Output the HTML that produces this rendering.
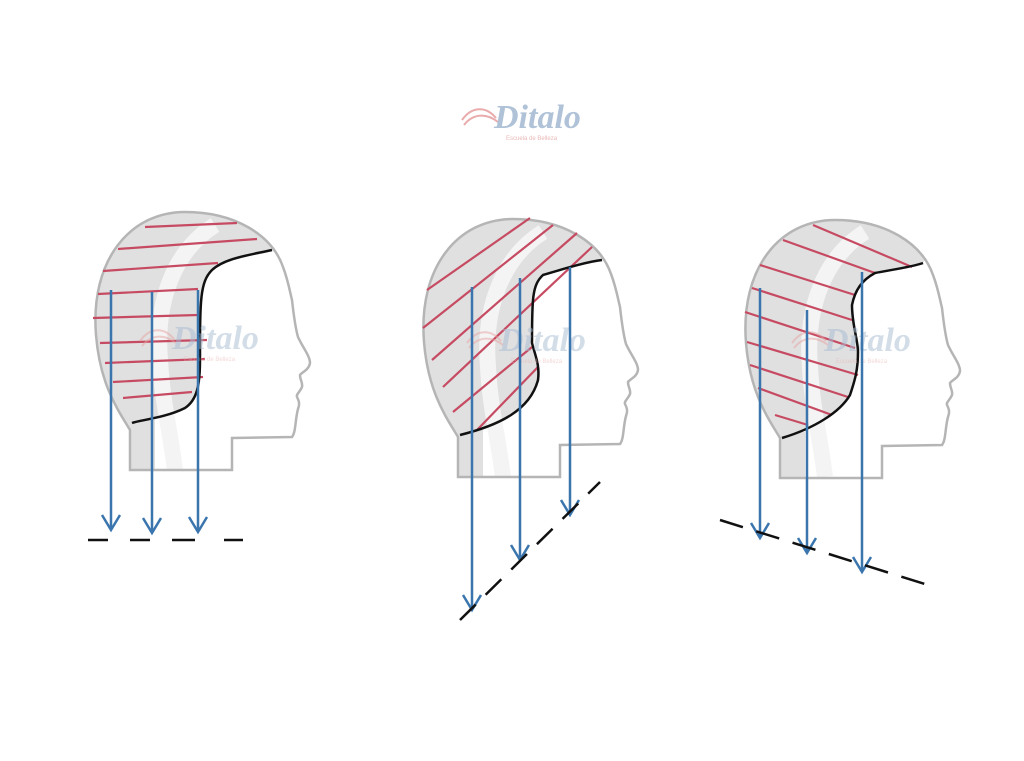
<!DOCTYPE html>
<html><head><meta charset="utf-8"><style>
html,body{margin:0;padding:0;background:#fff;}
svg{display:block;}
</style></head><body>
<svg width="1024" height="761" viewBox="0 0 1024 761" xmlns="http://www.w3.org/2000/svg">
<defs>
<path id="head" d="M130,470 L130,430 C118,410 100,385 96,335 C90,260 130,212 185,212 C235,212 272,235 283,267 C288,280 290,292 292,300 C294,318 296,330 298,337 C303,348 310,356 310,363 C309,370 302,372 300,375 C300,380 303,383 302,387 C300,392 296,394 297,397 C299,401 300,404 298,409 C295,420 296,432 292,437 L232,438 L232,470 Z"/>
<clipPath id="c1"><use href="#head"/></clipPath>
<g id="logo">
<path d="M-38,8 C-28,-6 -14,-6 -4,6" stroke="#e7a3a3" stroke-width="2" fill="none"/>
<path d="M-36,13 C-26,0 -12,2 -2,10" stroke="#e7a3a3" stroke-width="2" fill="none"/>
<text x="-6" y="16" font-family="Liberation Serif, serif" font-style="italic" font-weight="bold" font-size="34" fill="#a7bcd3">Ditalo</text>
<text x="6" y="28" font-family="Liberation Sans, sans-serif" font-size="6" fill="#e9b1b1">Escuela de Belleza</text>
</g>
</defs>

<use href="#logo" transform="translate(500,112)" opacity="0.9"/>

<!-- HEAD 1 -->
<g>
<use href="#head" fill="#fff"/>
<g clip-path="url(#c1)">
<path d="M272,250 C250,255 225,258 212,270 C200,282 200,300 200,360 C200,385 197,400 185,408 C165,418 140,420 132,423 L60,470 L60,190 L300,190 L300,250 Z" fill="#e0e0e0"/>
<rect x="125" y="420" width="30" height="55" fill="#e0e0e0"/>
<path d="M215,225 C175,250 155,300 160,360 C162,400 170,430 175,470" stroke="#f4f4f4" stroke-width="16" fill="none"/>
</g>
<use href="#head" fill="none" stroke="#b5b5b5" stroke-width="2.5"/>
<g stroke="#c64b62" stroke-width="2.2">
<line x1="145" y1="227" x2="237" y2="223"/><line x1="118" y1="249" x2="257" y2="239"/>
<line x1="103" y1="271" x2="218" y2="263"/><line x1="98" y1="294" x2="198" y2="289"/>
<line x1="93" y1="318" x2="198" y2="315"/><line x1="100" y1="343" x2="207" y2="340"/>
<line x1="105" y1="363" x2="205" y2="359"/><line x1="113" y1="382" x2="203" y2="377"/>
<line x1="123" y1="398" x2="192" y2="392"/>
</g>
<path d="M272,250 C250,255 225,258 212,270 C200,282 200,300 200,360 C200,385 197,400 185,408 C165,418 140,420 132,423" stroke="#111" stroke-width="2.5" fill="none"/>
<use href="#logo" transform="translate(178,333)" opacity="0.5"/>
<g stroke="#3a75ad" stroke-width="2.5" fill="none">
<line x1="111" y1="290" x2="111" y2="530"/><polyline points="102,515 111,530 120,515"/>
<line x1="152" y1="292" x2="152" y2="533"/><polyline points="143,518 152,533 161,518"/>
<line x1="198" y1="290" x2="198" y2="532"/><polyline points="189,517 198,532 207,517"/>
</g>
<g stroke="#111" stroke-width="2.5">
<line x1="88" y1="540" x2="108" y2="540"/><line x1="130" y1="540" x2="150" y2="540"/>
<line x1="172" y1="540" x2="195" y2="540"/><line x1="224" y1="540" x2="243" y2="540"/>
</g>
</g>

<!-- HEAD 2 -->
<g>
<g transform="translate(328,7)"><use href="#head" fill="#fff"/></g>
<g transform="translate(328,7)" clip-path="url(#c1)">
<g transform="translate(-328,-7)">
<path d="M602,260 C585,262 560,270 543,275 C532,285 532,300 532,343 C535,355 540,365 538,380 C530,410 500,425 460,435 L380,480 L380,190 L640,190 Z" fill="#e0e0e0"/>
<rect x="453" y="430" width="30" height="55" fill="#e0e0e0"/>
<path d="M543,232 C503,257 483,307 488,367 C490,407 498,437 503,477" stroke="#f4f4f4" stroke-width="16" fill="none"/>
</g></g>
<g transform="translate(328,7)"><use href="#head" fill="none" stroke="#b5b5b5" stroke-width="2.5"/></g>
<g stroke="#c64b62" stroke-width="2.2">
<line x1="427" y1="290" x2="530" y2="218"/><line x1="423" y1="328" x2="553" y2="225"/>
<line x1="432" y1="360" x2="577" y2="233"/><line x1="443" y1="387" x2="592" y2="247"/>
<line x1="453" y1="412" x2="532" y2="347"/><line x1="477" y1="430" x2="538" y2="367"/>
</g>
<path d="M602,260 C585,262 560,270 543,275 C532,285 532,300 532,343 C535,355 540,365 538,380 C530,410 500,425 460,435" stroke="#111" stroke-width="2.5" fill="none"/>
<use href="#logo" transform="translate(505,335)" opacity="0.5"/>
<g stroke="#3a75ad" stroke-width="2.5" fill="none">
<line x1="472" y1="287" x2="472" y2="610"/><polyline points="463,595 472,610 481,595"/>
<line x1="520" y1="278" x2="520" y2="560"/><polyline points="511,545 520,560 529,545"/>
<line x1="570" y1="267" x2="570" y2="515"/><polyline points="561,500 570,515 579,500"/>
</g>
<line x1="460" y1="620" x2="600" y2="482" stroke="#111" stroke-width="2.5" stroke-dasharray="22,14"/>
</g>

<!-- HEAD 3 -->
<g>
<g transform="translate(650,8)"><use href="#head" fill="#fff"/></g>
<g transform="translate(650,8)" clip-path="url(#c1)">
<g transform="translate(-650,-8)">
<path d="M923,263 C912,267 890,270 875,273 C862,280 855,290 852,305 C852,325 858,340 858,352 C858,370 855,380 850,395 C840,412 815,428 782,438 L700,480 L700,190 L960,190 Z" fill="#e0e0e0"/>
<rect x="775" y="432" width="30" height="55" fill="#e0e0e0"/>
<path d="M865,232 C825,257 805,307 810,367 C812,407 820,437 825,477" stroke="#f4f4f4" stroke-width="16" fill="none"/>
</g></g>
<g transform="translate(650,8)"><use href="#head" fill="none" stroke="#b5b5b5" stroke-width="2.5"/></g>
<g stroke="#c64b62" stroke-width="2.2">
<line x1="813" y1="225" x2="912" y2="267"/><line x1="783" y1="240" x2="875" y2="273"/>
<line x1="760" y1="265" x2="855" y2="295"/><line x1="752" y1="288" x2="852" y2="320"/>
<line x1="745" y1="312" x2="855" y2="348"/><line x1="747" y1="342" x2="858" y2="375"/>
<line x1="750" y1="365" x2="848" y2="397"/><line x1="758" y1="388" x2="832" y2="415"/>
<line x1="775" y1="415" x2="808" y2="425"/>
</g>
<path d="M923,263 C912,267 890,270 875,273 C862,280 855,290 852,305 C852,325 858,340 858,352 C858,370 855,380 850,395 C840,412 815,428 782,438" stroke="#111" stroke-width="2.5" fill="none"/>
<use href="#logo" transform="translate(830,335)" opacity="0.5"/>
<g stroke="#3a75ad" stroke-width="2.5" fill="none">
<line x1="760" y1="288" x2="760" y2="538"/><polyline points="751,523 760,538 769,523"/>
<line x1="807" y1="310" x2="807" y2="553"/><polyline points="798,538 807,553 816,538"/>
<line x1="862" y1="272" x2="862" y2="572"/><polyline points="853,557 862,572 871,557"/>
</g>
<line x1="720" y1="520" x2="928" y2="585" stroke="#111" stroke-width="2.5" stroke-dasharray="24,14"/>
</g>
</svg>
</body></html>
